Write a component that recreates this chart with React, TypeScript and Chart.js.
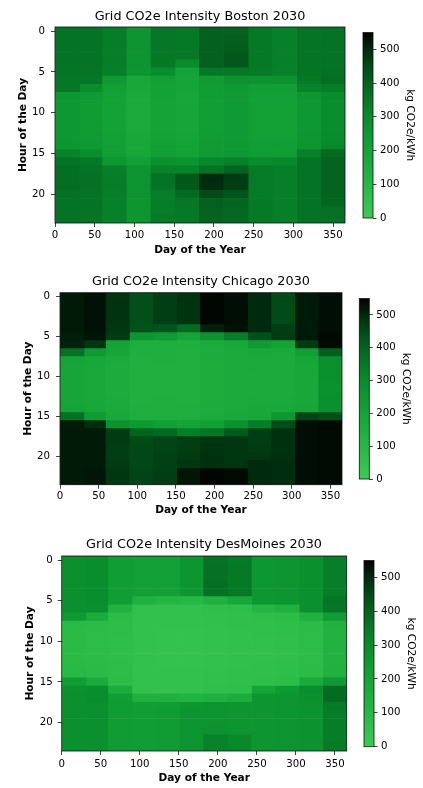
import React, { useEffect, useRef } from 'react';
import { Chart, registerables } from 'chart.js';

Chart.register(...registerables);
Chart.defaults.font.family = "'DejaVu Sans', 'Liberation Sans', sans-serif";
Chart.defaults.color = '#000';

// ---------- data ----------
const HOURS = [0, 1, 2, 3, 4, 5, 6, 7, 8, 9, 10, 11, 12, 13, 14, 15, 16, 17, 18, 19, 20, 21, 22, 23];
const MONTHS = ['Jan', 'Feb', 'Mar', 'Apr', 'May', 'Jun', 'Jul', 'Aug', 'Sep', 'Oct', 'Nov', 'Dec'];
const MONTH_DAYS = [31, 28, 31, 30, 31, 30, 31, 31, 30, 31, 30, 31];
const DAY_MIN = 0;
const DAY_MAX = 365;
const DAY_STEP = 50;
const HOUR_STEP = 5;
const CBAR_MIN = 0;
const CBAR_MAX = 550;
const CBAR_STEP = 100;
const UNIT_LABEL = 'kg CO2e/kWh';

// colormap (value -> rgb)
const CMAP_VALUES = [0, 100, 200, 300, 370, 450, 500, 550];
const CMAP_COLORS = [
  [62, 201, 84],
  [38, 184, 68],
  [20, 164, 55],
  [8, 140, 44],
  [4, 113, 36],
  [1, 75, 23],
  [0, 42, 13],
  [0, 2, 1],
];

// hourly values per month (Jan..Dec), kg CO2e/kWh
const BOSTON = [
  [365, 365, 365, 365, 365, 360, 355, 350, 255, 250, 250, 250, 250, 250, 255, 320, 365, 375, 375, 375, 370, 365, 365, 365],
  [365, 365, 365, 365, 365, 360, 355, 290, 240, 235, 235, 235, 235, 240, 245, 290, 350, 365, 370, 370, 365, 365, 360, 360],
  [340, 340, 340, 340, 340, 335, 245, 215, 210, 210, 210, 210, 210, 215, 220, 225, 255, 335, 340, 340, 335, 330, 330, 330],
  [265, 265, 265, 265, 265, 260, 180, 175, 170, 170, 170, 170, 170, 175, 180, 185, 220, 265, 265, 265, 265, 260, 260, 260],
  [355, 355, 355, 355, 350, 290, 215, 210, 210, 205, 205, 205, 205, 210, 215, 220, 280, 325, 365, 365, 340, 340, 340, 345],
  [350, 350, 350, 350, 300, 205, 200, 200, 195, 195, 195, 195, 195, 200, 205, 210, 265, 320, 425, 420, 385, 355, 350, 350],
  [405, 405, 405, 405, 405, 355, 235, 230, 230, 225, 225, 225, 225, 230, 235, 240, 310, 365, 500, 495, 450, 405, 400, 400],
  [400, 405, 410, 425, 425, 355, 275, 245, 240, 240, 240, 240, 240, 240, 245, 250, 325, 400, 475, 470, 430, 395, 390, 390],
  [350, 350, 350, 350, 350, 345, 265, 225, 220, 220, 215, 215, 215, 220, 225, 230, 300, 345, 345, 345, 345, 350, 350, 350],
  [330, 330, 330, 330, 330, 325, 275, 225, 220, 220, 215, 215, 215, 220, 225, 230, 310, 335, 335, 335, 335, 335, 335, 335],
  [360, 360, 360, 360, 360, 360, 350, 320, 255, 250, 250, 250, 250, 255, 260, 325, 365, 365, 365, 365, 365, 365, 365, 365],
  [365, 365, 365, 365, 365, 370, 375, 340, 300, 295, 295, 295, 295, 300, 305, 385, 400, 400, 400, 400, 400, 395, 370, 370],
];

const CHICAGO = [
  [520, 520, 520, 520, 520, 515, 510, 370, 200, 195, 195, 195, 195, 195, 200, 370, 520, 520, 520, 520, 520, 520, 520, 520],
  [530, 530, 530, 530, 530, 525, 480, 240, 180, 175, 175, 175, 175, 175, 180, 240, 495, 520, 520, 520, 520, 520, 525, 525],
  [485, 485, 485, 485, 480, 475, 205, 195, 165, 160, 160, 160, 160, 165, 170, 180, 270, 475, 475, 470, 470, 475, 480, 480],
  [440, 440, 440, 440, 435, 260, 150, 145, 140, 140, 140, 140, 140, 140, 145, 150, 245, 400, 450, 455, 455, 455, 460, 460],
  [470, 470, 470, 470, 430, 240, 150, 145, 145, 140, 140, 140, 140, 145, 145, 150, 220, 385, 460, 460, 465, 465, 470, 470],
  [485, 485, 485, 485, 385, 200, 145, 140, 140, 140, 140, 140, 140, 140, 145, 150, 205, 340, 470, 470, 475, 480, 525, 525],
  [545, 545, 545, 545, 510, 270, 165, 160, 160, 155, 155, 155, 155, 160, 160, 165, 215, 355, 485, 485, 490, 490, 545, 545],
  [535, 535, 535, 535, 530, 340, 175, 170, 170, 165, 165, 165, 165, 170, 170, 175, 275, 420, 480, 480, 480, 485, 540, 540],
  [500, 500, 500, 500, 500, 440, 240, 175, 170, 170, 165, 165, 165, 170, 175, 180, 340, 470, 470, 475, 480, 500, 500, 500],
  [450, 450, 450, 450, 470, 475, 205, 170, 165, 165, 165, 165, 165, 170, 175, 250, 445, 490, 490, 490, 490, 495, 495, 495],
  [520, 520, 520, 520, 520, 520, 475, 215, 185, 180, 180, 180, 180, 180, 185, 460, 535, 535, 535, 535, 535, 535, 535, 535],
  [535, 535, 535, 535, 535, 540, 540, 405, 285, 280, 280, 275, 275, 280, 285, 440, 540, 540, 540, 540, 540, 540, 540, 540],
];

const DESMOINES = [
  [280, 280, 280, 280, 280, 280, 285, 245, 90, 85, 85, 85, 85, 90, 95, 230, 275, 280, 280, 280, 280, 280, 280, 280],
  [290, 290, 290, 290, 290, 290, 285, 160, 80, 75, 75, 75, 75, 80, 85, 165, 290, 290, 285, 285, 285, 285, 285, 285],
  [230, 230, 230, 230, 230, 230, 130, 75, 70, 70, 65, 65, 65, 70, 70, 75, 160, 230, 235, 235, 235, 235, 235, 235],
  [220, 220, 220, 220, 220, 140, 55, 50, 50, 45, 45, 45, 45, 45, 50, 50, 55, 140, 225, 230, 230, 230, 230, 230],
  [220, 220, 220, 220, 215, 110, 50, 45, 45, 40, 40, 40, 40, 40, 45, 45, 50, 140, 230, 235, 235, 235, 235, 235],
  [260, 260, 260, 260, 255, 100, 50, 45, 45, 40, 40, 40, 40, 40, 45, 45, 50, 120, 260, 265, 265, 265, 265, 265],
  [365, 370, 370, 375, 370, 140, 60, 55, 55, 50, 50, 50, 50, 50, 55, 55, 60, 140, 265, 265, 265, 270, 320, 320],
  [345, 350, 350, 350, 350, 185, 65, 60, 60, 55, 55, 55, 55, 55, 60, 60, 65, 160, 260, 260, 260, 265, 305, 305],
  [255, 255, 255, 255, 255, 255, 110, 65, 60, 60, 55, 55, 55, 60, 60, 65, 200, 260, 260, 260, 260, 260, 260, 260],
  [260, 260, 260, 260, 260, 260, 140, 70, 65, 65, 60, 60, 60, 65, 65, 70, 240, 265, 265, 265, 265, 265, 265, 265],
  [280, 280, 280, 280, 280, 285, 285, 140, 80, 75, 75, 75, 75, 75, 80, 170, 290, 275, 270, 270, 270, 270, 270, 270],
  [335, 335, 335, 335, 340, 360, 355, 230, 135, 130, 130, 130, 130, 130, 135, 245, 380, 380, 345, 340, 340, 340, 340, 345],
];

// ---------- helpers ----------
function colorFor(v: number): string {
  const vals = CMAP_VALUES;
  let i = 0;
  while (i < vals.length - 2 && v > vals[i + 1]) i++;
  const t = Math.max(0, Math.min(1, (v - vals[i]) / (vals[i + 1] - vals[i])));
  const a = CMAP_COLORS[i];
  const b = CMAP_COLORS[i + 1];
  const c = a.map((x, k) => Math.round(x + (b[k] - x) * t));
  return `rgb(${c[0]},${c[1]},${c[2]})`;
}

const framePlugin = {
  id: 'frame',
  afterDatasetsDraw(chart: any) {
    const { ctx, chartArea: a } = chart;
    ctx.save();
    ctx.strokeStyle = '#111';
    ctx.lineWidth = 0.8;
    ctx.strokeRect(a.left, a.top, a.right - a.left, a.bottom - a.top);
    ctx.restore();
  },
};

const TICK_FONT = { size: 10.2 };
const LABEL_FONT = { size: 10.6, weight: 'bold' as const };
const TITLE_FONT = { size: 12.8, weight: 'normal' as const };

type HeatLayout = {
  title: string;
  values: number[][];
  left: number; top: number; width: number; height: number;
  yW: number; rW: number; xH: number;
  titlePT: number; titlePB: number;
  xTickPad: number; xTitlePB: number; yTitlePT: number; yTickPad: number;
};

type CbarLayout = {
  left: number; top: number; width: number; height: number;
  padL: number; padT: number; padB: number; axisW: number; titlePT: number;
};

function heatConfig(L: HeatLayout): any {
  return {
    type: 'bar',
    data: {
      datasets: MONTH_DAYS.map((days, m) => ({
        label: MONTHS[m],
        data: HOURS.map((h) => ({ x: days, y: h })),
        backgroundColor: HOURS.map((h) => colorFor(L.values[m][h])),
        borderWidth: 0,
        barPercentage: 1,
        categoryPercentage: 1,
      })),
    },
    options: {
      indexAxis: 'y',
      animation: false,
      responsive: false,
      events: [],
      layout: { padding: 0 },
      plugins: {
        legend: { display: false },
        tooltip: { enabled: false },
        title: {
          display: true,
          text: L.title,
          font: TITLE_FONT,
          color: '#000',
          padding: { top: L.titlePT, bottom: L.titlePB },
        },
      },
      scales: {
        x: {
          type: 'linear',
          stacked: true,
          min: DAY_MIN,
          max: DAY_MAX,
          offset: false,
          ticks: { stepSize: DAY_STEP, includeBounds: false, font: TICK_FONT, color: '#000', padding: L.xTickPad, maxRotation: 0 },
          grid: { drawOnChartArea: false, drawTicks: true, tickLength: 4, color: '#111', lineWidth: 0.8, offset: false },
          border: { display: false },
          title: { display: true, text: 'Day of the Year', font: LABEL_FONT, color: '#000', padding: { top: 0, bottom: L.xTitlePB } },
          afterFit: (s: any) => { s.height = L.xH; },
        },
        y: {
          type: 'linear',
          stacked: true,
          min: -0.5,
          max: 23.5,
          reverse: true,
          offset: false,
          ticks: { stepSize: HOUR_STEP, includeBounds: false, font: TICK_FONT, color: '#000', padding: L.yTickPad },
          grid: { drawOnChartArea: false, drawTicks: true, tickLength: 4, color: '#111', lineWidth: 0.8, offset: false },
          border: { display: false },
          title: { display: true, text: 'Hour of the Day', font: LABEL_FONT, color: '#000', padding: { top: L.yTitlePT, bottom: 0 } },
          afterFit: (s: any) => { s.width = L.yW; },
        },
        yr: {
          type: 'linear',
          position: 'right',
          display: true,
          grid: { display: false },
          border: { display: false },
          ticks: { display: false },
          afterFit: (s: any) => { s.width = L.rW; },
        },
      },
    },
    plugins: [framePlugin],
  };
}

function cbarConfig(C: CbarLayout): any {
  return {
    type: 'bar',
    data: {
      labels: [UNIT_LABEL],
      datasets: [
        {
          data: [[CBAR_MIN, CBAR_MAX]],
          backgroundColor: (ctx: any) => {
            const chart = ctx.chart;
            const area = chart.chartArea;
            if (!area) return '#000';
            const g = chart.ctx.createLinearGradient(0, area.bottom, 0, area.top);
            CMAP_VALUES.forEach((v, i) => {
              const c = CMAP_COLORS[i];
              g.addColorStop((v - CBAR_MIN) / (CBAR_MAX - CBAR_MIN), `rgb(${c[0]},${c[1]},${c[2]})`);
            });
            return g;
          },
          borderWidth: 0,
          barPercentage: 1,
          categoryPercentage: 1,
        },
      ],
    },
    options: {
      animation: false,
      responsive: false,
      events: [],
      layout: { padding: { left: C.padL, top: C.padT, bottom: C.padB, right: 0 } },
      plugins: { legend: { display: false }, tooltip: { enabled: false } },
      scales: {
        x: { display: false },
        y: {
          position: 'right',
          min: CBAR_MIN,
          max: CBAR_MAX,
          ticks: { stepSize: CBAR_STEP, includeBounds: false, font: TICK_FONT, color: '#000', padding: 3.5 },
          grid: { drawOnChartArea: false, drawTicks: true, tickLength: 3.5, color: '#111', lineWidth: 0.8 },
          border: { display: false },
          title: { display: true, text: UNIT_LABEL, font: { size: 10.6 }, color: '#000', padding: { top: C.titlePT, bottom: 0 } },
          afterFit: (s: any) => { s.width = C.axisW; },
        },
      },
    },
    plugins: [framePlugin],
  };
}

function ChartCanvas(props: { left: number; top: number; width: number; height: number; make: () => any }) {
  const ref = useRef<HTMLCanvasElement>(null);
  useEffect(() => {
    const chart = new Chart(ref.current as HTMLCanvasElement, props.make());
    return () => chart.destroy();
  }, []);
  return (
    <canvas
      ref={ref}
      width={props.width}
      height={props.height}
      style={{ position: 'absolute', left: props.left, top: props.top, width: props.width, height: props.height }}
    />
  );
}

const HEATS: HeatLayout[] = [
  {
    title: 'Grid CO2e Intensity Boston 2030', values: BOSTON,
    left: 0, top: 0, width: 400, height: 260, yW: 55, rW: 55, xH: 37,
    titlePT: 8.8, titlePB: 2.84, xTickPad: 2.6, xTitlePB: 3.6, yTitlePT: 16.9, yTickPad: 6,
  },
  {
    title: 'Grid CO2e Intensity Chicago 2030', values: CHICAGO,
    left: 0, top: 255, width: 402, height: 265, yW: 60, rW: 60, xH: 35.3,
    titlePT: 19.0, titlePB: 3.34, xTickPad: 2, xTitlePB: 3.1, yTitlePT: 21.9, yTickPad: 6,
  },
  {
    title: 'Grid CO2e Intensity DesMoines 2030', values: DESMOINES,
    left: 0, top: 520, width: 408, height: 268, yW: 61.7, rW: 61.3, xH: 37,
    titlePT: 17.3, titlePB: 3.34, xTickPad: 2.9, xTitlePB: 3.1, yTitlePT: 24.3, yTickPad: 5,
  },
];

const CBARS: CbarLayout[] = [
  { left: 340, top: 0, width: 83, height: 260, padL: 23, padT: 32.5, padB: 42, axisW: 50, titlePT: 7.1 },
  { left: 340, top: 255, width: 83, height: 265, padL: 19.3, padT: 43.5, padB: 41, axisW: 53.7, titlePT: 10.8 },
  { left: 340, top: 520, width: 83, height: 268, padL: 24, padT: 40.5, padB: 41.3, axisW: 49, titlePT: 6.1 },
];

export default function App() {
  return (
    <div style={{ position: 'absolute', left: 0, top: 0, width: 423, height: 788, background: '#fff', overflow: 'hidden' }}>
      {HEATS.map((h, i) => (
        <ChartCanvas key={'h' + i} left={h.left} top={h.top} width={h.width} height={h.height} make={() => heatConfig(h)} />
      ))}
      {CBARS.map((c, i) => (
        <ChartCanvas key={'c' + i} left={c.left} top={c.top} width={c.width} height={c.height} make={() => cbarConfig(c)} />
      ))}
    </div>
  );
}
